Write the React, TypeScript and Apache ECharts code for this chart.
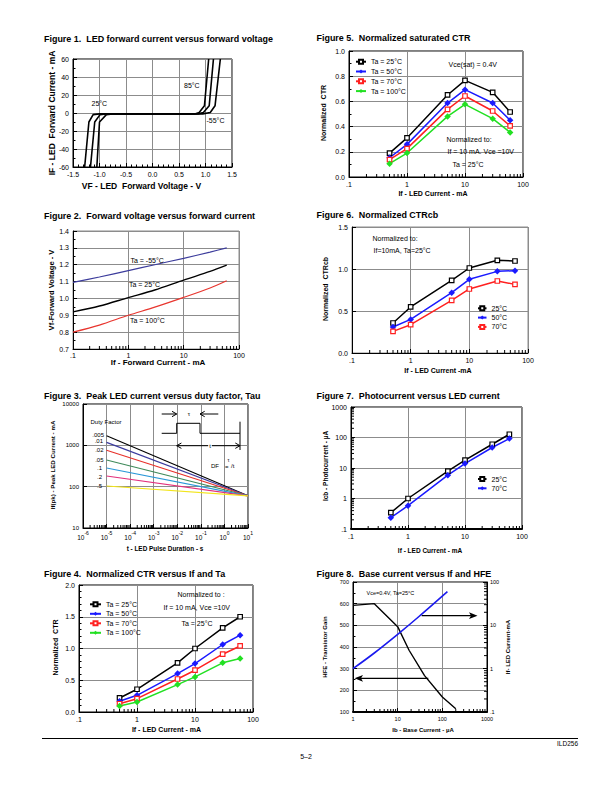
import React, { useEffect, useRef } from 'react';
import * as echarts from 'echarts';

const FONT = '"Liberation Sans", Arial, Helvetica, sans-serif';

// ---------- Figure 1: IF vs VF (V, mA) ----------
const fig1CurveInner = [[-1.05, -60], [-1.0, -10], [-0.87, -1.8], [-0.75, -1], [0.8, -1], [0.88, 0.5], [0.98, 8], [1.06, 60]];
const fig1CurveMiddle = [[-1.17, -60], [-1.09, -10], [-0.99, -1.8], [-0.88, -1], [0.86, -1], [0.96, 0.5], [1.07, 8], [1.15, 60]];
const fig1CurveOuter = [[-1.28, -60], [-1.2, -10], [-1.12, -1.8], [-1.0, -1], [0.95, -1], [1.09, 0.5], [1.18, 8], [1.28, 60]];

// ---------- Figure 2: VF vs IF ----------
const fig2Current = [0.1, 0.3, 1, 3, 10, 30, 60];
const fig2VfMinus55 = [1.095, 1.127, 1.165, 1.2, 1.238, 1.275, 1.3];
const fig2Vf25 = [0.92, 0.955, 1.005, 1.05, 1.109, 1.16, 1.197];
const fig2Vf100 = [0.8, 0.842, 0.9, 0.948, 1.006, 1.062, 1.105];

// ---------- Figure 3: peak current vs pulse duration ----------
const fig3Duration = [1e-5, 10];
const fig3DutyFactors = ['.005', '.01', '.02', '.05', '.1', '.2', '.5'];
const fig3PeakStart = [1710, 1180, 757, 442, 283, 181, 104];
const fig3PeakEnd = [60, 60, 60, 60, 60, 60, 60];
const fig3Colors = ['#000000', '#3b3b9e', '#e8302a', '#3e8a5a', '#2a98d8', '#e2307c', '#f2e51c'];

// ---------- Figures 4-7: LED current points ----------
const ledCurrent = [0.5, 1, 5, 10, 30, 60];
const fig4Ta25 = [0.221, 0.358, 0.774, 1.0, 1.326, 1.5];
const fig4Ta50 = [0.168, 0.263, 0.605, 0.763, 1.063, 1.21];
const fig4Ta70 = [0.13, 0.21, 0.52, 0.658, 0.91, 1.04];
const fig4Ta100 = [0.095, 0.158, 0.432, 0.553, 0.774, 0.842];

const fig5Ta25 = [0.19, 0.31, 0.651, 0.767, 0.672, 0.516];
const fig5Ta50 = [0.153, 0.259, 0.587, 0.693, 0.587, 0.45];
const fig5Ta70 = [0.138, 0.225, 0.537, 0.643, 0.524, 0.405];
const fig5Ta100 = [0.106, 0.19, 0.481, 0.577, 0.463, 0.354];

const fig6Ta25 = [0.357, 0.548, 0.865, 1.012, 1.103, 1.095];
const fig6Ta50 = [0.31, 0.4, 0.718, 0.877, 0.972, 0.98];
const fig6Ta70 = [0.258, 0.337, 0.627, 0.762, 0.857, 0.817];

const fig7Ta25 = [0.342, 1.0, 7.9, 18, 60, 128];
const fig7Ta70 = [0.235, 0.58, 5.8, 14, 47, 92];

// ---------- Figure 8 ----------
const fig8BaseHfe = [1, 3, 10, 18, 40, 100, 200];
const fig8Hfe = [592, 600, 494, 385, 268, 169, 115];
const fig8BaseIf = [1, 3, 10, 30, 130];
const fig8LedIf = [1.0, 2.3, 6.2, 16, 60];

const BLUE = '#1a1aff';
const RED = '#ff2020';
const GREEN = '#22e022';

const logFmt = (v: number) => {
  const r = +Number(v).toPrecision(6);
  return r < 1 ? String(r).replace(/^0\./, '.') : String(r);
};
const fix1 = (v: number) => Number(v).toFixed(1);

function mkAxis(o: any) {
  const a: any = {
    type: o.type || 'value',
    gridIndex: o.grid,
    min: o.min,
    max: o.max,
    axisLine: { show: true, onZero: false, lineStyle: { color: '#000', width: o.lineWidth || 1 } },
    axisTick: { show: true, inside: true, length: 4, lineStyle: { color: '#000', width: 1 } },
    minorTick: o.minor ? { show: true, splitNumber: o.minor, length: 2.5, lineStyle: { color: '#000', width: 1 } } : { show: false },
    axisLabel: {
      show: true, fontSize: o.fs || 7, color: '#000', fontFamily: FONT, margin: o.margin ?? 4,
      formatter: o.fmt, showMinLabel: true, showMaxLabel: true,
    },
    splitLine: { show: o.split !== false, lineStyle: { color: '#8c8c8c', width: 1 } },
  };
  if (o.rich) a.axisLabel.rich = o.rich;
  if (o.position) a.position = o.position;
  if (o.interval !== undefined) a.interval = o.interval;
  if (a.type === 'log') a.logBase = 10;
  return a;
}

function lineSeries(name: string, xi: number, yi: number, data: number[][], color: string, symbol: string, fill: string, opts: any = {}) {
  return {
    type: 'line', name, xAxisIndex: xi, yAxisIndex: yi, data,
    symbol, symbolSize: symbol === 'rect' ? 4.5 : 6.5, showSymbol: symbol !== 'none',
    smooth: opts.smooth || false,
    lineStyle: { color, width: opts.width || 1.5 },
    itemStyle: { color: fill, borderColor: color, borderWidth: symbol === 'rect' ? 1.2 : 0 },
    emphasis: { disabled: true }, silent: true, z: 3,
  };
}
const zip = (xs: number[], ys: number[]) => xs.map((x, i) => [x, ys[i]]);

function logMinors(e0: number, e1: number) {
  const out: number[] = [];
  for (let e = e0; e < e1; e++) for (let m = 2; m <= 9; m++) out.push(+(m * Math.pow(10, e)).toPrecision(3));
  return out;
}
function minorX(xi: number, yi: number, vals: number[], yRef: number) {
  return {
    type: 'custom', xAxisIndex: xi, yAxisIndex: yi, silent: true, z: 6,
    data: vals.map((v) => [v, yRef]),
    renderItem: (params: any, api: any) => {
      const cs = params.coordSys;
      const px = api.coord([api.value(0), api.value(1)])[0];
      const yb = cs.y + cs.height;
      return { type: 'line', shape: { x1: px, y1: yb, x2: px, y2: yb - 3 }, style: { stroke: '#000', lineWidth: 1 } };
    },
  };
}
function minorY(xi: number, yi: number, vals: number[], xRef: number, right = false) {
  return {
    type: 'custom', xAxisIndex: xi, yAxisIndex: yi, silent: true, z: 6,
    data: vals.map((v) => [xRef, v]),
    renderItem: (params: any, api: any) => {
      const cs = params.coordSys;
      const py = api.coord([api.value(0), api.value(1)])[1];
      const xb = right ? cs.x + cs.width : cs.x;
      const d = right ? -3 : 3;
      return { type: 'line', shape: { x1: xb, y1: py, x2: xb + d, y2: py }, style: { stroke: '#000', lineWidth: 1 } };
    },
  };
}

function txt(text: string, x: number, y: number, size: number, o: any = {}) {
  return {
    type: 'text', x, y, rotation: o.rot || 0, z: 10, silent: true,
    style: {
      text, fill: o.color || '#000', fontSize: size, fontWeight: o.bold ? 'bold' : 'normal', fontFamily: FONT,
      align: o.align || 'left', verticalAlign: 'middle',
      backgroundColor: o.bg, padding: o.bg ? [0, 1] : 0,
    },
  };
}
const ln = (x1: number, y1: number, x2: number, y2: number, w = 1) => ({ type: 'line', z: 10, silent: true, shape: { x1, y1, x2, y2 }, style: { stroke: '#000', lineWidth: w } });
const pl = (points: number[][], w = 1) => ({ type: 'polyline', z: 10, silent: true, shape: { points }, style: { stroke: '#000', lineWidth: w, fill: 'none' } });
const pg = (points: number[][]) => ({ type: 'polygon', z: 10, silent: true, shape: { points }, style: { fill: '#000' } });

function buildOption() {
  const grids = [
    { left: 73, top: 59, width: 159, height: 108, border: '#000' },
    { left: 73, top: 231, width: 166, height: 118, border: '#8c8c8c' },
    { left: 83, top: 404, width: 165, height: 124, border: '#000' },
    { left: 79, top: 585, width: 174, height: 127, border: '#000' },
    { left: 349, top: 51, width: 174, height: 126, border: '#000' },
    { left: 352, top: 227, width: 176, height: 126, border: '#8c8c8c' },
    { left: 351, top: 407, width: 171, height: 122, border: '#000' },
    { left: 353, top: 582, width: 134, height: 130, border: '#000' },
  ].map((g) => ({ left: g.left, top: g.top, width: g.width, height: g.height, show: true, borderColor: g.border, borderWidth: 1, backgroundColor: 'transparent' }));

  const supRich = {
    b: { fontSize: 6.5, fontFamily: FONT, color: '#000', lineHeight: 11, verticalAlign: 'bottom' },
    s: { fontSize: 5, fontFamily: FONT, color: '#000', lineHeight: 6, verticalAlign: 'top' },
  };

  const xAxis = [
    mkAxis({ grid: 0, min: -1.5, max: 1.5, interval: 0.5, minor: 5, fmt: fix1 }),
    mkAxis({ grid: 1, type: 'log', min: 0.1, max: 100, fmt: logFmt, margin: 2.5 }),
    mkAxis({ grid: 2, type: 'log', min: 1e-6, max: 10, fs: 6, margin: 2, rich: supRich, fmt: (v: number) => `{b|10}{s|${Math.round(Math.log10(v))}}` }),
    mkAxis({ grid: 3, type: 'log', min: 0.1, max: 100, fmt: logFmt }),
    mkAxis({ grid: 4, type: 'log', min: 0.1, max: 100, fmt: logFmt }),
    mkAxis({ grid: 5, type: 'log', min: 0.1, max: 100, fmt: logFmt }),
    mkAxis({ grid: 6, type: 'log', min: 0.1, max: 100, fmt: logFmt, lineWidth: 2 }),
    mkAxis({ grid: 7, type: 'log', min: 1, max: 1000, fmt: logFmt, fs: 5.5, lineWidth: 2 }),
  ];
  const yAxis = [
    mkAxis({ grid: 0, min: -60, max: 60, interval: 20, minor: 2 }),
    mkAxis({ grid: 1, min: 0.7, max: 1.4, interval: 0.1, minor: 2, fmt: fix1 }),
    mkAxis({ grid: 2, type: 'log', min: 10, max: 10000, fmt: logFmt, fs: 6 }),
    mkAxis({ grid: 3, min: 0, max: 2, interval: 0.5, minor: 5, fmt: fix1 }),
    mkAxis({ grid: 4, min: 0, max: 1, interval: 0.2, minor: 2, fmt: fix1 }),
    mkAxis({ grid: 5, min: 0, max: 1.5, interval: 0.5, fmt: fix1 }),
    mkAxis({ grid: 6, type: 'log', min: 0.1, max: 1000, fmt: logFmt }),
    mkAxis({ grid: 7, min: 100, max: 700, interval: 100, minor: 2, fs: 5.5 }),
    mkAxis({ grid: 7, type: 'log', min: 0.1, max: 100, fmt: logFmt, fs: 5.5, position: 'right', split: false, margin: 3 }),
  ];

  const series: any[] = [];
  // Fig 1
  [fig1CurveInner, fig1CurveMiddle, fig1CurveOuter].forEach((c, i) =>
    series.push(lineSeries('f1|' + i, 0, 0, c, '#000', 'none', '#000', { width: 1.6 })));
  // Fig 2
  series.push(lineSeries('f2|-55', 1, 1, zip(fig2Current, fig2VfMinus55), '#3c3c9c', 'none', '#3c3c9c', { smooth: 0.3, width: 1.2 }));
  series.push(lineSeries('f2|25', 1, 1, zip(fig2Current, fig2Vf25), '#000', 'none', '#000', { smooth: 0.3, width: 1.4 }));
  series.push(lineSeries('f2|100', 1, 1, zip(fig2Current, fig2Vf100), '#e8352e', 'none', '#e8352e', { smooth: 0.3, width: 1.2 }));
  // Fig 3
  fig3DutyFactors.forEach((df, i) =>
    series.push(lineSeries('f3|' + df, 2, 2, [[fig3Duration[0], fig3PeakStart[i]], [fig3Duration[1], fig3PeakEnd[i]]], fig3Colors[i], 'none', fig3Colors[i], { width: 1.1 })));
  // Fig 4
  series.push(lineSeries('f4|Ta = 25°C', 3, 3, zip(ledCurrent, fig4Ta25), '#000', 'rect', '#fff'));
  series.push(lineSeries('f4|Ta = 50°C', 3, 3, zip(ledCurrent, fig4Ta50), BLUE, 'diamond', BLUE));
  series.push(lineSeries('f4|Ta = 70°C', 3, 3, zip(ledCurrent, fig4Ta70), RED, 'rect', '#fff'));
  series.push(lineSeries('f4|Ta = 100°C', 3, 3, zip(ledCurrent, fig4Ta100), GREEN, 'diamond', GREEN));
  // Fig 5
  series.push(lineSeries('f5|Ta = 25°C', 4, 4, zip(ledCurrent, fig5Ta25), '#000', 'rect', '#fff'));
  series.push(lineSeries('f5|Ta = 50°C', 4, 4, zip(ledCurrent, fig5Ta50), BLUE, 'diamond', BLUE));
  series.push(lineSeries('f5|Ta = 70°C', 4, 4, zip(ledCurrent, fig5Ta70), RED, 'rect', '#fff'));
  series.push(lineSeries('f5|Ta = 100°C', 4, 4, zip(ledCurrent, fig5Ta100), GREEN, 'diamond', GREEN));
  // Fig 6
  series.push(lineSeries('f6|25°C', 5, 5, zip(ledCurrent, fig6Ta25), '#000', 'rect', '#fff'));
  series.push(lineSeries('f6|50°C', 5, 5, zip(ledCurrent, fig6Ta50), BLUE, 'diamond', BLUE));
  series.push(lineSeries('f6|70°C', 5, 5, zip(ledCurrent, fig6Ta70), RED, 'rect', '#fff'));
  // Fig 7
  series.push(lineSeries('f7|25°C', 6, 6, zip(ledCurrent, fig7Ta25), '#000', 'rect', '#fff'));
  series.push(lineSeries('f7|70°C', 6, 6, zip(ledCurrent, fig7Ta70), BLUE, 'diamond', BLUE));
  // Fig 8
  series.push(lineSeries('f8|hfe', 7, 7, zip(fig8BaseHfe, fig8Hfe), '#000', 'none', '#000', { width: 1.4 }));
  series.push(lineSeries('f8|if', 7, 8, zip(fig8BaseIf, fig8LedIf), '#1a1aee', 'none', '#1a1aee', { smooth: 0.3, width: 1.6 }));

  // minor log ticks
  series.push(minorX(1, 1, logMinors(-1, 2), 0.7));
  series.push(minorX(2, 2, logMinors(-6, 1), 10));
  series.push(minorX(3, 3, logMinors(-1, 2), 0));
  series.push(minorX(4, 4, logMinors(-1, 2), 0));
  series.push(minorX(5, 5, logMinors(-1, 2), 0));
  series.push(minorX(6, 6, logMinors(-1, 2), 0.1));
  series.push(minorX(7, 7, logMinors(0, 3), 100));
  series.push(minorY(6, 6, logMinors(-1, 3), 0.1));
  series.push(minorY(7, 8, logMinors(-1, 2), 1, true));

  const legendBase = {
    orient: 'vertical', selectedMode: false, padding: 0, itemHeight: 5, itemGap: 2.5,
    formatter: (n: string) => n.split('|')[1],
    textStyle: { fontSize: 7, color: '#000', fontFamily: FONT, padding: [0, 0, 0, 0] },
  };
  const legend = [
    { ...legendBase, left: 89, top: 600.8, itemWidth: 11, itemGap: 2.5, data: ['f4|Ta = 25°C', 'f4|Ta = 50°C', 'f4|Ta = 70°C', 'f4|Ta = 100°C'] },
    { ...legendBase, left: 355, top: 58.2, itemWidth: 10, itemGap: 2.8, data: ['f5|Ta = 25°C', 'f5|Ta = 50°C', 'f5|Ta = 70°C', 'f5|Ta = 100°C'] },
    { ...legendBase, left: 477, top: 304.8, itemWidth: 8.5, itemGap: 2.3, data: ['f6|25°C', 'f6|50°C', 'f6|70°C'] },
    { ...legendBase, left: 477, top: 475.5, itemWidth: 8.5, itemGap: 2.3, data: ['f7|25°C', 'f7|70°C'] },
  ];

  const TS = 8.95;
  const graphic: any[] = [
    // titles
    txt('Figure 1.  LED forward current versus forward voltage', 44, 38.5, TS, { bold: true }),
    txt('Figure 2.  Forward voltage versus forward current', 44, 215.5, TS, { bold: true }),
    txt('Figure 3.  Peak LED current versus duty factor, Tau', 44, 396, TS, { bold: true }),
    txt('Figure 4.  Normalized CTR versus If and Ta', 44, 573.5, TS, { bold: true }),
    txt('Figure 5.  Normalized saturated CTR', 316.5, 37.5, TS, { bold: true }),
    txt('Figure 6.  Normalized CTRcb', 316.5, 215, TS, { bold: true }),
    txt('Figure 7.  Photocurrent versus LED current', 316.5, 396, TS, { bold: true }),
    txt('Figure 8.  Base current versus If and HFE', 316.5, 573.5, TS, { bold: true }),
    // axis titles
    txt('IF - LED  Forward Current - mA', 51.5, 113, 8.5, { bold: true, rot: Math.PI / 2, align: 'center' }),
    txt('VF - LED  Forward Voltage - V', 141.5, 186, 8.5, { bold: true, align: 'center' }),
    txt('Vf-Forward Voltage - V', 51.5, 290, 7.6, { bold: true, rot: Math.PI / 2, align: 'center' }),
    txt('If - Forward Current - mA', 158, 362.5, 8, { bold: true, align: 'center' }),
    txt('If(pk) - Peak LED Current - mA', 52, 465, 6.2, { bold: true, rot: Math.PI / 2, align: 'center' }),
    txt('t - LED Pulse Duration - s', 165, 548.5, 6.4, { bold: true, align: 'center' }),
    txt('Normalized  CTR', 55, 647.5, 7, { bold: true, rot: Math.PI / 2, align: 'center' }),
    txt('If - LED Current - mA', 166.5, 729.5, 7, { bold: true, align: 'center' }),
    txt('Normalized  CTR', 323.5, 113, 7, { bold: true, rot: Math.PI / 2, align: 'center' }),
    txt('If - LED Current - mA', 433, 193.5, 7, { bold: true, align: 'center' }),
    txt('Normalized  CTRcb', 325, 289, 7, { bold: true, rot: Math.PI / 2, align: 'center' }),
    txt('If - LED Current -mA', 438, 370, 7, { bold: true, align: 'center' }),
    txt('Icb - Photocurrent - µA', 325, 466, 6.5, { bold: true, rot: Math.PI / 2, align: 'center' }),
    txt('If - LED Current - mA', 430, 550, 6.5, { bold: true, align: 'center' }),
    txt('HFE - Transistor Gain', 325, 647, 6, { bold: true, rot: Math.PI / 2, align: 'center' }),
    txt('If- LED Current-mA', 508, 647, 6, { bold: true, rot: Math.PI / 2, align: 'center' }),
    txt('Ib - Base Current - µA', 423, 730, 6, { bold: true, align: 'center' }),
    // fig 1 annotations
    txt('25°C', 91.5, 103.5, 7),
    txt('85°C', 184, 85, 7),
    txt('-55°C', 206.5, 120, 7),
    // fig 2 annotations
    txt('Ta = -55°C', 130.5, 260, 7),
    txt('Ta = 25°C', 129, 284.5, 7),
    txt('Ta = 100°C', 130, 320, 7),
    // fig 3 annotations
    txt('Duty Factor', 90.5, 421.5, 6),
    txt('.005', 104, 435, 6, { align: 'right' }),
    txt('.01', 103, 440.5, 6, { align: 'right' }),
    txt('.02', 103.5, 449.5, 6, { align: 'right' }),
    txt('.05', 103.5, 459.5, 6, { align: 'right' }),
    txt('.1', 102, 468, 6, { align: 'right' }),
    txt('.2', 102, 476.5, 6, { align: 'right' }),
    txt('.5', 102, 486, 6, { align: 'right' }),
    pl([[161.7, 433.3], [176.7, 433.3], [176.7, 423.3], [200, 423.3], [200, 433.3], [240, 433.3]]),
    ln(240, 421.7, 240, 450),
    ln(161.7, 414, 176.7, 414),
    pl([[172, 411.3], [176.7, 414], [172, 416.7]]),
    ln(218.3, 414, 200, 414),
    pl([[204.7, 411.3], [200, 414], [204.7, 416.7]]),
    txt('τ', 189, 413.5, 6, { align: 'center' }),
    ln(176.7, 445.7, 240, 445.7),
    pl([[181.4, 443], [176.7, 445.7], [181.4, 448.4]]),
    pl([[235.3, 443], [240, 445.7], [235.3, 448.4]]),
    txt('t', 210, 445.7, 6, { align: 'center', bg: '#fff' }),
    txt('DF', 211, 466, 6),
    txt('=', 225, 466.5, 6),
    txt('τ', 227.5, 459.5, 5),
    txt('/t', 231, 466, 6),
    // fig 4 annotations
    txt('Normalized to :', 177.5, 594, 7),
    txt('If = 10 mA, Vce =10V', 163.5, 607.5, 7),
    txt('Ta = 25°C', 181.5, 623.5, 7),
    // fig 5 annotations
    txt('Vce(sat) = 0.4V', 448.5, 64.5, 7),
    txt('Normalized to:', 446.5, 139.5, 7),
    txt('If = 10 mA. Vce =10V', 447.5, 151.5, 7),
    txt('Ta = 25°C', 452.5, 164.5, 7),
    // fig 6 annotations
    txt('Normalized to:', 372.5, 238.5, 7),
    txt('If=10mA, Ta=25°C', 373.5, 250.5, 7),
    // fig 8 annotations
    txt('Vce=0.4V, Ta=25°C', 366.5, 592.5, 5.5),
    ln(421.7, 615.7, 471, 615.7, 1.2),
    pg([[469, 612.3], [477.5, 615.7], [469, 619.1], [471, 615.7]]),
    ln(428.3, 678.3, 361, 678.3, 1.2),
    pg([[363, 674.9], [354.5, 678.3], [363, 681.7], [361, 678.3]]),
    // footer
    ln(42, 738.5, 578, 738.5, 1.2),
    txt('ILD256', 578, 743.5, 6.5, { align: 'right' }),
    txt('5–2', 306, 756, 7, { align: 'center' }),
  ];

  return { animation: false, backgroundColor: '#fff', grid: grids, xAxis, yAxis, legend, series, graphic };
}

export default function App() {
  const ref = useRef<HTMLDivElement>(null);
  useEffect(() => {
    const chart = echarts.init(ref.current!, null, { renderer: 'svg', width: 612, height: 792 });
    chart.setOption(buildOption() as any);
    return () => chart.dispose();
  }, []);
  return <div ref={ref} style={{ position: 'absolute', left: 0, top: 0, width: 612, height: 792, background: '#fff' }} />;
}
